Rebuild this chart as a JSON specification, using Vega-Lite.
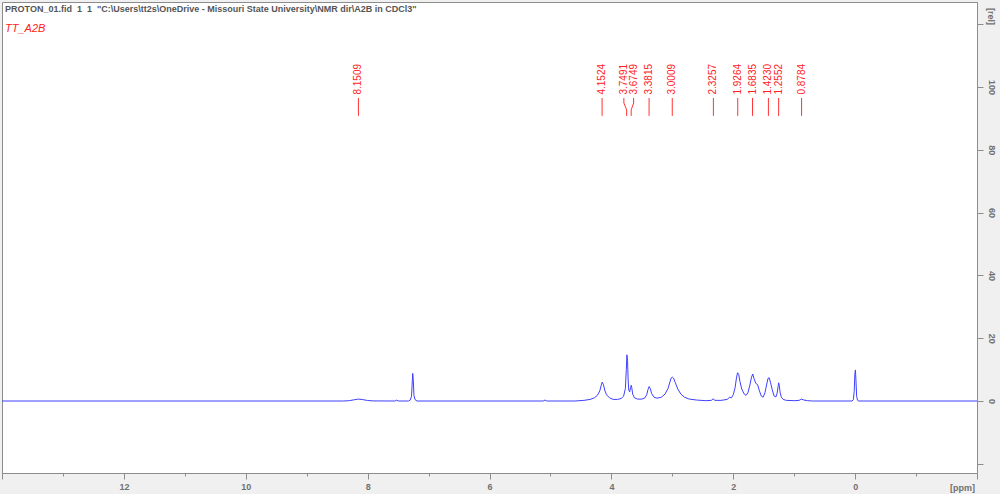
{
  "$schema": "https://vega.github.io/schema/vega-lite/v6.json",
  "width": 975,
  "height": 471,
  "autosize": {"type": "none"},
  "padding": {"left": 2, "top": 2, "right": 23, "bottom": 21},
  "background": "#f0f0f0",
  "config": {
    "view": {"fill": "white", "stroke": "#8c8c8c", "strokeWidth": 1},
    "font": "Liberation Sans"
  },
  "datasets": {
    "spectrum": [
      {"ppm": 14, "i": 0}, {"ppm": 8.4, "i": 0}, {"ppm": 8.3, "i": 0.1}, {"ppm": 8.22, "i": 0.4}, {"ppm": 8.15, "i": 0.6}, {"ppm": 8.08, "i": 0.45}, {"ppm": 8.0, "i": 0.15}, {"ppm": 7.9, "i": 0.02},
      {"ppm": 7.55, "i": 0}, {"ppm": 7.52, "i": 0.3}, {"ppm": 7.5, "i": 0}, {"ppm": 7.33, "i": 0}, {"ppm": 7.3, "i": 0.3}, {"ppm": 7.28, "i": 1.5}, {"ppm": 7.27, "i": 5}, {"ppm": 7.26, "i": 8.8}, {"ppm": 7.25, "i": 6.5}, {"ppm": 7.24, "i": 1.8}, {"ppm": 7.22, "i": 0.4}, {"ppm": 7.19, "i": 0},
      {"ppm": 5.12, "i": 0}, {"ppm": 5.09, "i": 0.3}, {"ppm": 5.06, "i": 0},
      {"ppm": 4.6, "i": 0}, {"ppm": 4.45, "i": 0.2}, {"ppm": 4.35, "i": 0.5}, {"ppm": 4.28, "i": 1.0}, {"ppm": 4.23, "i": 1.8}, {"ppm": 4.19, "i": 3.2}, {"ppm": 4.17, "i": 4.8}, {"ppm": 4.15, "i": 6.0}, {"ppm": 4.13, "i": 5.2}, {"ppm": 4.11, "i": 3.5}, {"ppm": 4.08, "i": 2.0}, {"ppm": 4.03, "i": 1.0}, {"ppm": 3.97, "i": 0.5}, {"ppm": 3.9, "i": 0.5},
      {"ppm": 3.84, "i": 0.8}, {"ppm": 3.8, "i": 1.5}, {"ppm": 3.77, "i": 4}, {"ppm": 3.755, "i": 10}, {"ppm": 3.745, "i": 14.7}, {"ppm": 3.735, "i": 13}, {"ppm": 3.725, "i": 7}, {"ppm": 3.715, "i": 3.5}, {"ppm": 3.7, "i": 2.9}, {"ppm": 3.685, "i": 4.2}, {"ppm": 3.675, "i": 5.0}, {"ppm": 3.665, "i": 4.2}, {"ppm": 3.65, "i": 2.2}, {"ppm": 3.62, "i": 1.0}, {"ppm": 3.57, "i": 0.6}, {"ppm": 3.5, "i": 0.6},
      {"ppm": 3.45, "i": 1.0}, {"ppm": 3.42, "i": 2.0}, {"ppm": 3.4, "i": 3.6}, {"ppm": 3.38, "i": 4.6}, {"ppm": 3.36, "i": 3.9}, {"ppm": 3.34, "i": 2.4}, {"ppm": 3.3, "i": 1.2}, {"ppm": 3.25, "i": 0.9},
      {"ppm": 3.18, "i": 1.2}, {"ppm": 3.12, "i": 2.2}, {"ppm": 3.07, "i": 4.0}, {"ppm": 3.04, "i": 6.0}, {"ppm": 3.02, "i": 7.3}, {"ppm": 3.0, "i": 7.6}, {"ppm": 2.98, "i": 7.3}, {"ppm": 2.95, "i": 5.8}, {"ppm": 2.91, "i": 3.8}, {"ppm": 2.86, "i": 2.2}, {"ppm": 2.8, "i": 1.2}, {"ppm": 2.72, "i": 0.6}, {"ppm": 2.6, "i": 0.3}, {"ppm": 2.45, "i": 0.1},
      {"ppm": 2.36, "i": 0.2}, {"ppm": 2.33, "i": 0.7}, {"ppm": 2.3, "i": 0.2}, {"ppm": 2.2, "i": 0.2}, {"ppm": 2.1, "i": 0.5}, {"ppm": 2.06, "i": 1.2}, {"ppm": 2.03, "i": 1.0},
      {"ppm": 2.0, "i": 2.0}, {"ppm": 1.97, "i": 4.2}, {"ppm": 1.95, "i": 7.0}, {"ppm": 1.93, "i": 9.0}, {"ppm": 1.91, "i": 8.5}, {"ppm": 1.89, "i": 6.2}, {"ppm": 1.86, "i": 3.8}, {"ppm": 1.82, "i": 2.2}, {"ppm": 1.79, "i": 1.8},
      {"ppm": 1.76, "i": 2.6}, {"ppm": 1.73, "i": 4.8}, {"ppm": 1.7, "i": 7.6}, {"ppm": 1.68, "i": 8.6}, {"ppm": 1.66, "i": 7.2}, {"ppm": 1.63, "i": 5.6}, {"ppm": 1.6, "i": 5.2}, {"ppm": 1.57, "i": 3.2}, {"ppm": 1.54, "i": 1.6}, {"ppm": 1.51, "i": 1.2},
      {"ppm": 1.48, "i": 2.6}, {"ppm": 1.45, "i": 5.4}, {"ppm": 1.43, "i": 7.2}, {"ppm": 1.41, "i": 7.4}, {"ppm": 1.39, "i": 6.0}, {"ppm": 1.36, "i": 3.6}, {"ppm": 1.33, "i": 1.6}, {"ppm": 1.3, "i": 1.3},
      {"ppm": 1.28, "i": 2.5}, {"ppm": 1.265, "i": 4.5}, {"ppm": 1.255, "i": 5.8}, {"ppm": 1.245, "i": 5.0}, {"ppm": 1.23, "i": 2.6}, {"ppm": 1.21, "i": 1.2}, {"ppm": 1.18, "i": 0.5}, {"ppm": 1.13, "i": 0.2}, {"ppm": 1.0, "i": 0.1},
      {"ppm": 0.92, "i": 0.2}, {"ppm": 0.88, "i": 0.6}, {"ppm": 0.84, "i": 0.3}, {"ppm": 0.78, "i": 0.1}, {"ppm": 0.7, "i": 0},
      {"ppm": 0.05, "i": 0}, {"ppm": 0.03, "i": 0.4}, {"ppm": 0.015, "i": 3}, {"ppm": 0.005, "i": 8.5}, {"ppm": -0.005, "i": 9.9}, {"ppm": -0.015, "i": 6}, {"ppm": -0.025, "i": 1.5}, {"ppm": -0.04, "i": 0.2}, {"ppm": -0.06, "i": 0}, {"ppm": -2, "i": 0}
    ],
    "peaks": [
      {"label": "8.1509", "ppm": 8.1509, "label_ppm": 8.1509},
      {"label": "4.1524", "ppm": 4.1524, "label_ppm": 4.1524},
      {"label": "3.7491", "ppm": 3.7491, "label_ppm": 3.795},
      {"label": "3.6749", "ppm": 3.6749, "label_ppm": 3.635},
      {"label": "3.3815", "ppm": 3.3815, "label_ppm": 3.3815},
      {"label": "3.0009", "ppm": 3.0009, "label_ppm": 3.0009},
      {"label": "2.3257", "ppm": 2.3257, "label_ppm": 2.3257},
      {"label": "1.9264", "ppm": 1.9264, "label_ppm": 1.9264},
      {"label": "1.6835", "ppm": 1.6835, "label_ppm": 1.6835},
      {"label": "1.4230", "ppm": 1.423, "label_ppm": 1.423},
      {"label": "1.2552", "ppm": 1.2552, "label_ppm": 1.2552},
      {"label": "0.8784", "ppm": 0.8784, "label_ppm": 0.8784}
    ],
    "connectors": [
      {"peak": "8.1509", "seq": 1, "ppm": 8.1509, "level": 96.5}, {"peak": "8.1509", "seq": 2, "ppm": 8.1509, "level": 90.8},
      {"peak": "4.1524", "seq": 1, "ppm": 4.1524, "level": 96.5}, {"peak": "4.1524", "seq": 2, "ppm": 4.1524, "level": 90.8},
      {"peak": "3.7491", "seq": 1, "ppm": 3.795, "level": 96.5}, {"peak": "3.7491", "seq": 2, "ppm": 3.795, "level": 94.9}, {"peak": "3.7491", "seq": 3, "ppm": 3.7491, "level": 92.7}, {"peak": "3.7491", "seq": 4, "ppm": 3.7491, "level": 90.8},
      {"peak": "3.6749", "seq": 1, "ppm": 3.635, "level": 96.5}, {"peak": "3.6749", "seq": 2, "ppm": 3.635, "level": 94.9}, {"peak": "3.6749", "seq": 3, "ppm": 3.6749, "level": 92.7}, {"peak": "3.6749", "seq": 4, "ppm": 3.6749, "level": 90.8},
      {"peak": "3.3815", "seq": 1, "ppm": 3.3815, "level": 96.5}, {"peak": "3.3815", "seq": 2, "ppm": 3.3815, "level": 90.8},
      {"peak": "3.0009", "seq": 1, "ppm": 3.0009, "level": 96.5}, {"peak": "3.0009", "seq": 2, "ppm": 3.0009, "level": 90.8},
      {"peak": "2.3257", "seq": 1, "ppm": 2.3257, "level": 96.5}, {"peak": "2.3257", "seq": 2, "ppm": 2.3257, "level": 90.8},
      {"peak": "1.9264", "seq": 1, "ppm": 1.9264, "level": 96.5}, {"peak": "1.9264", "seq": 2, "ppm": 1.9264, "level": 90.8},
      {"peak": "1.6835", "seq": 1, "ppm": 1.6835, "level": 96.5}, {"peak": "1.6835", "seq": 2, "ppm": 1.6835, "level": 90.8},
      {"peak": "1.4230", "seq": 1, "ppm": 1.423, "level": 96.5}, {"peak": "1.4230", "seq": 2, "ppm": 1.423, "level": 90.8},
      {"peak": "1.2552", "seq": 1, "ppm": 1.2552, "level": 96.5}, {"peak": "1.2552", "seq": 2, "ppm": 1.2552, "level": 90.8},
      {"peak": "0.8784", "seq": 1, "ppm": 0.8784, "level": 96.5}, {"peak": "0.8784", "seq": 2, "ppm": 0.8784, "level": 90.8}
    ],
    "header": [
      {"text": "PROTON_01.fid\u00a0 1\u00a0 1\u00a0 \"C:\\Users\\tt2s\\OneDrive - Missouri State University\\NMR dir\\A2B in CDCl3\"", "ppm": 13.95, "i": 124.8}
    ],
    "sample": [
      {"text": "TT_A2B", "ppm": 13.95, "i": 118.4}
    ]
  },
  "layer": [
    {
      "data": {"name": "spectrum"},
      "mark": {"type": "line", "color": "#4040ff", "strokeWidth": 1, "clip": true},
      "encoding": {
        "x": {
          "field": "ppm", "type": "quantitative",
          "scale": {"domain": [-2, 14], "reverse": true, "nice": false, "zero": false},
          "axis": {
            "orient": "bottom",
            "format": "d",
            "values": [-2, -1.5, -1, -0.5, 0, 0.5, 1, 1.5, 2, 2.5, 3, 3.5, 4, 4.5, 5, 5.5, 6, 6.5, 7, 7.5, 8, 8.5, 9, 9.5, 10, 10.5, 11, 11.5, 12, 12.5, 13, 13.5, 14],
            "labelExpr": "(datum.value % 2 === 0 && datum.value >= 0 && datum.value <= 12) ? datum.label : ''",
            "tickSize": {"condition": {"test": "datum.value % 2 === 0", "value": 6}, "value": 3},
            "grid": false,
            "domainColor": "#8c8c8c",
            "tickColor": "#8c8c8c",
            "labelColor": "#707070",
            "labelFontSize": 9,
            "labelFontWeight": "bold",
            "labelPadding": 3,
            "labelFlush": false,
            "labelOverlap": false,
            "title": "[ppm]",
            "titleX": 960,
            "titleY": 14,
            "titleAngle": 0,
            "titleAlign": "center",
            "titleBaseline": "middle",
            "titleFontSize": 9,
            "titleFontWeight": "bold",
            "titleColor": "#707070"
          }
        },
        "y": {
          "field": "i", "type": "quantitative",
          "scale": {"domain": [-22.93, 127.07], "nice": false, "zero": false},
          "axis": {
            "orient": "right",
            "format": "d",
            "values": [-20, -15, -10, -5, 0, 5, 10, 15, 20, 25, 30, 35, 40, 45, 50, 55, 60, 65, 70, 75, 80, 85, 90, 95, 100, 105, 110, 115, 120, 125],
            "labelExpr": "(datum.value % 20 === 0 && datum.value >= 0 && datum.value <= 100) ? datum.label : ''",
            "tickSize": {"condition": {"test": "datum.value % 20 === 0", "value": 6}, "value": 3},
            "grid": false,
            "domainColor": "#8c8c8c",
            "tickColor": "#8c8c8c",
            "labelColor": "#707070",
            "labelFontSize": 9,
            "labelFontWeight": "bold",
            "labelAngle": 90,
            "labelAlign": "center",
            "labelBaseline": "bottom",
            "labelPadding": 3,
            "labelFlush": false,
            "labelOverlap": false,
            "title": "[rel]",
            "titleX": 13,
            "titleY": 14,
            "titleAngle": 90,
            "titleAlign": "center",
            "titleBaseline": "middle",
            "titleFontSize": 9,
            "titleFontWeight": "bold",
            "titleColor": "#707070"
          }
        }
      }
    },
    {
      "data": {"name": "connectors"},
      "mark": {"type": "line", "color": "#ff3333", "strokeWidth": 1},
      "encoding": {
        "x": {"field": "ppm", "type": "quantitative"},
        "y": {"field": "level", "type": "quantitative"},
        "detail": {"field": "peak"},
        "order": {"field": "seq"}
      }
    },
    {
      "data": {"name": "peaks"},
      "mark": {"type": "text", "angle": 270, "align": "left", "baseline": "middle", "fontSize": 10, "color": "#ff2222"},
      "encoding": {
        "x": {"field": "label_ppm", "type": "quantitative"},
        "y": {"datum": 97.6},
        "text": {"field": "label"}
      }
    },
    {
      "data": {"name": "header"},
      "mark": {"type": "text", "align": "left", "baseline": "middle", "fontSize": 9, "fontWeight": "bold", "color": "#555555"},
      "encoding": {
        "x": {"field": "ppm", "type": "quantitative"},
        "y": {"field": "i", "type": "quantitative"},
        "text": {"field": "text"}
      }
    },
    {
      "data": {"name": "sample"},
      "mark": {"type": "text", "align": "left", "baseline": "middle", "fontSize": 11, "fontStyle": "italic", "color": "#ff2222"},
      "encoding": {
        "x": {"field": "ppm", "type": "quantitative"},
        "y": {"field": "i", "type": "quantitative"},
        "text": {"field": "text"}
      }
    }
  ]
}
